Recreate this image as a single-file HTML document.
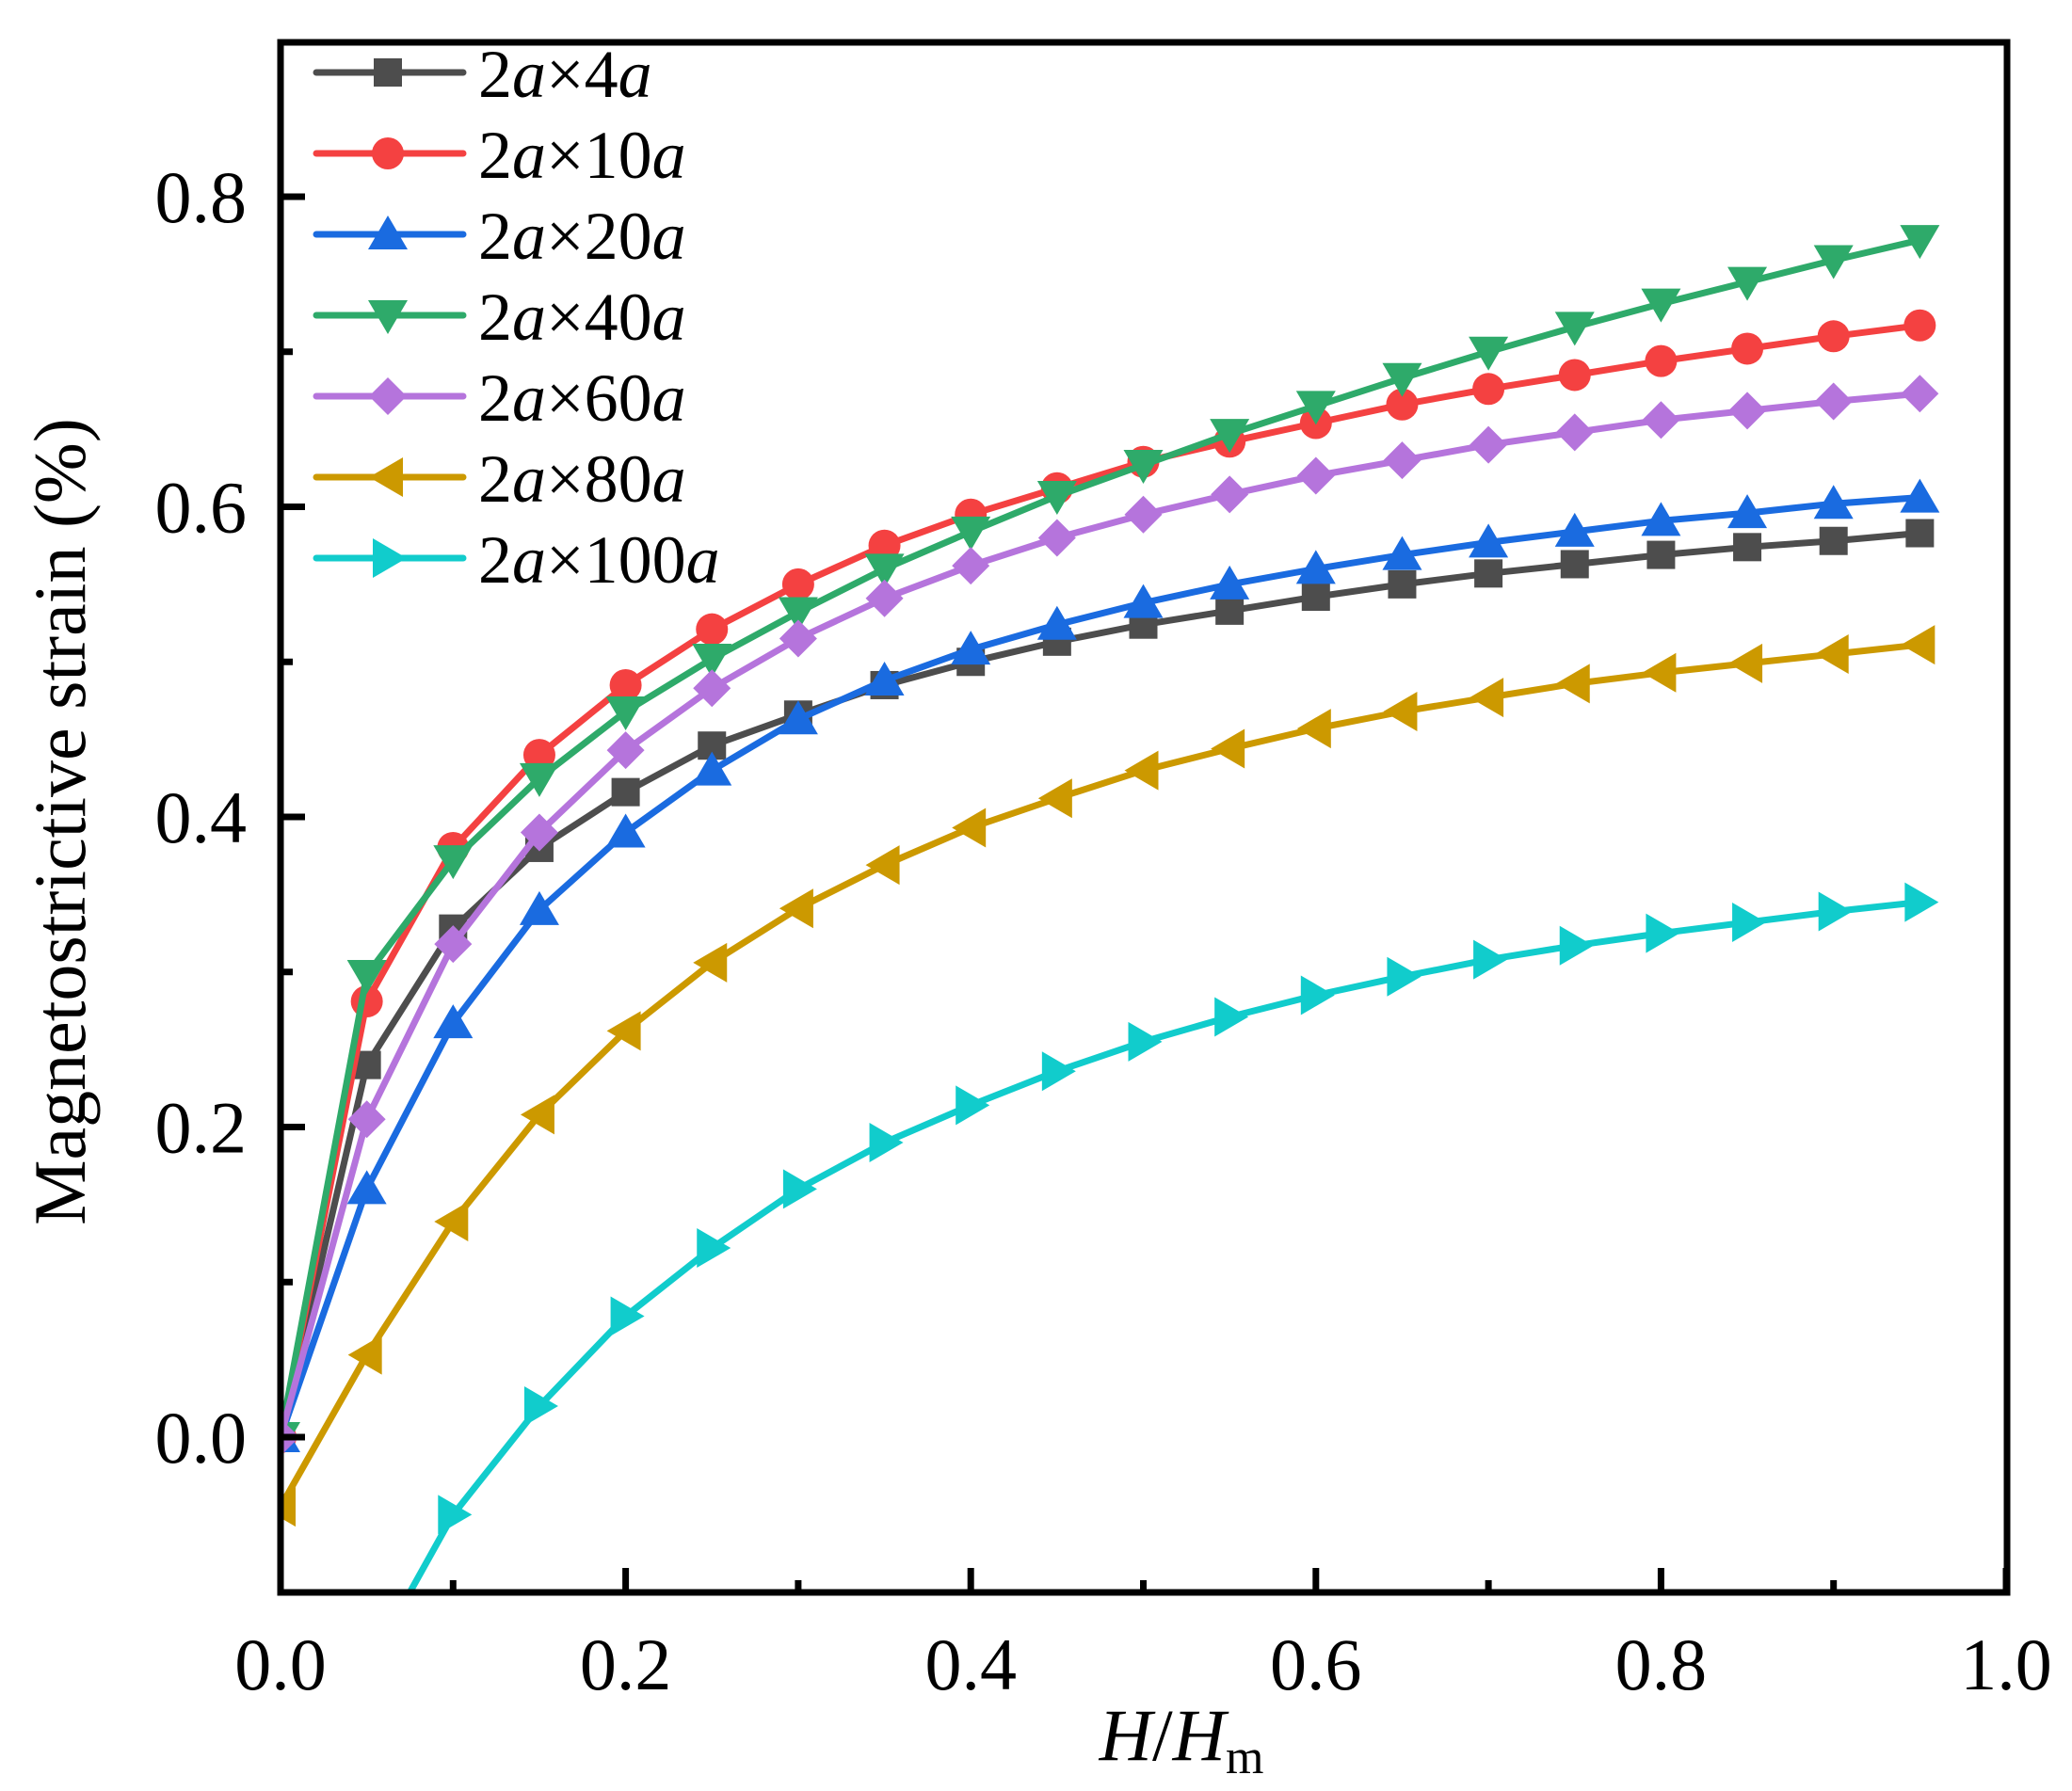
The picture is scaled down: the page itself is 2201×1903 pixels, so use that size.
<!DOCTYPE html>
<html><head><meta charset="utf-8"><style>
html,body{margin:0;padding:0;background:#fff;}
svg{display:block;}
svg text{font-family:"Liberation Serif","Times New Roman",Times,serif;fill:#000;}
</style></head><body>
<svg id="s" width="2201" height="1903" viewBox="0 0 2201 1903" xmlns="http://www.w3.org/2000/svg" font-family="Liberation Serif, Times New Roman, serif"></svg>
<script>
const X0=298,X1=2131,Y0=1527,YU=1647.5;
const px=x=>X0+x*(X1-X0), py=y=>Y0-y*YU;
const FF='font-family="Liberation Serif, Times New Roman, serif"';
const xs=[];for(let i=0;i<20;i++)xs.push(i*0.05);
const series=[
{c:'#4d4d4d',m:'sq',n:'4',d:[0,0.24,0.328,0.38,0.416,0.446,0.466,0.485,0.5,0.513,0.524,0.533,0.542,0.55,0.557,0.563,0.569,0.574,0.578,0.583]},
{c:'#f44141',m:'ci',n:'10',d:[0,0.281,0.38,0.44,0.485,0.521,0.55,0.575,0.595,0.612,0.629,0.642,0.654,0.666,0.676,0.685,0.694,0.702,0.71,0.717]},
{c:'#1a6be0',m:'up',n:'20',d:[0,0.16,0.267,0.34,0.39,0.43,0.463,0.488,0.508,0.524,0.538,0.55,0.56,0.569,0.577,0.584,0.591,0.596,0.602,0.606]},
{c:'#2eaa6a',m:'dn',n:'40',d:[0,0.298,0.372,0.425,0.468,0.502,0.532,0.56,0.584,0.607,0.627,0.647,0.665,0.683,0.7,0.716,0.731,0.745,0.759,0.772]},
{c:'#b574dc',m:'di',n:'60',d:[0,0.205,0.318,0.39,0.443,0.483,0.515,0.541,0.562,0.58,0.595,0.608,0.62,0.63,0.64,0.648,0.656,0.662,0.668,0.673]},
{c:'#cc9900',m:'lt',n:'80',d:[-0.045,0.053,0.139,0.208,0.262,0.306,0.341,0.369,0.393,0.412,0.43,0.444,0.457,0.468,0.477,0.486,0.493,0.499,0.505,0.511]},
{c:'#11cccc',m:'rt',n:'100',d:[-0.25,-0.15,-0.05,0.02,0.078,0.122,0.16,0.19,0.214,0.236,0.255,0.271,0.285,0.297,0.308,0.317,0.325,0.332,0.339,0.345]}
];
function mk(m,x,y,c){
 switch(m){
 case 'sq':return `<rect x="${x-15}" y="${y-15}" width="30" height="30" fill="${c}"/>`;
 case 'ci':return `<circle cx="${x}" cy="${y}" r="17" fill="${c}"/>`;
 case 'up':return `<polygon points="${x},${y-20} ${x+21},${y+16} ${x-21},${y+16}" fill="${c}"/>`;
 case 'dn':return `<polygon points="${x},${y+20} ${x+21},${y-16} ${x-21},${y-16}" fill="${c}"/>`;
 case 'di':return `<polygon points="${x},${y-20} ${x+20},${y} ${x},${y+20} ${x-20},${y}" fill="${c}"/>`;
 case 'lt':return `<polygon points="${x-20},${y} ${x+16},${y-21} ${x+16},${y+21}" fill="${c}"/>`;
 case 'rt':return `<polygon points="${x+20},${y} ${x-16},${y-21} ${x-16},${y+21}" fill="${c}"/>`;
 }
}
let h='<defs><clipPath id="cp"><rect x="298" y="45" width="1834" height="1647"/></clipPath></defs><g clip-path="url(#cp)">';
series.forEach(s=>{
 h+=`<polyline fill="none" stroke="${s.c}" stroke-width="7" stroke-linejoin="round" points="${s.d.map((v,i)=>px(xs[i]).toFixed(1)+','+py(v).toFixed(1)).join(' ')}"/>`;
 s.d.forEach((v,i)=>{h+=mk(s.m,px(xs[i]),py(v),s.c);});
});
h+='</g>';
h+='<rect x="298" y="45" width="1834" height="1647" fill="none" stroke="#000" stroke-width="7"/>';
for(let i=0;i<=10;i++){const x=px(i*0.1);const L=i%2?13:26;h+=`<line x1="${x}" y1="1692" x2="${x}" y2="${1692-L}" stroke="#000" stroke-width="7"/>`;
 if(i%2==0)h+=`<text ${FF} x="${x}" y="1795" font-size="78" text-anchor="middle">${(i*0.1).toFixed(1)}</text>`;}
for(let i=0;i<=8;i++){const y=py(i*0.1);const L=(i%2===0)?26:13;h+=`<line x1="298" y1="${y}" x2="${298+L}" y2="${y}" stroke="#000" stroke-width="7"/>`;
 if(i%2===0)h+=`<text ${FF} x="262" y="${y+27}" font-size="78" text-anchor="end">${(i*0.1).toFixed(1)}</text>`;}
series.forEach((s,i)=>{const y=77+i*86;
 h+=`<line x1="336" y1="${y}" x2="492" y2="${y}" stroke="${s.c}" stroke-width="7" stroke-linecap="round"/>`;
 h+=mk(s.m,412,y,s.c);
 h+=`<text ${FF} x="508" y="${y+26}" font-size="72">2<tspan font-style="italic">a</tspan>×${s.n}<tspan font-style="italic">a</tspan></text>`;
});
h+=`<text ${FF} x="1255" y="1870" font-size="78" text-anchor="middle"><tspan font-style="italic">H</tspan>/<tspan font-style="italic">H</tspan><tspan font-size="52" dy="14">m</tspan></text>`;
h+=`<text ${FF} transform="translate(90,873) rotate(-90)" font-size="78" text-anchor="middle">Magnetostrictive strain (%)</text>`;
document.getElementById('s').innerHTML=h;
</script>
</body></html>
